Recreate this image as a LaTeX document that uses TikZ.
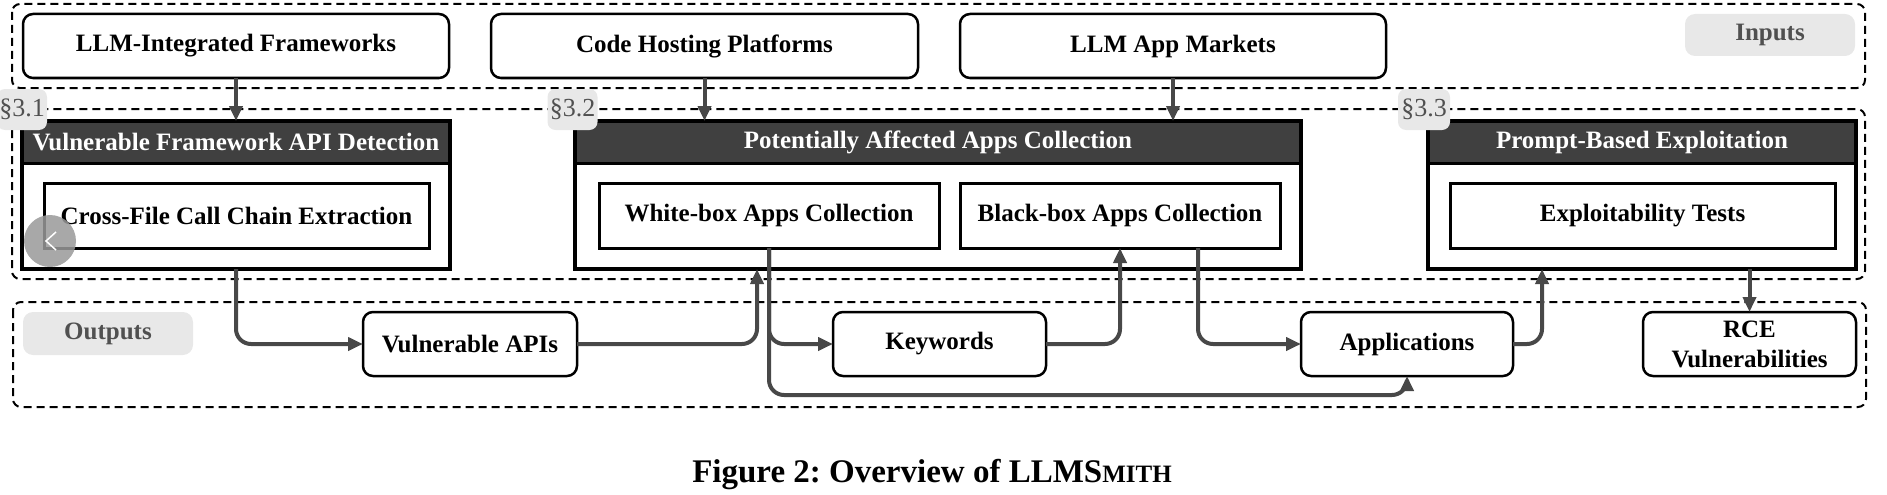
\documentclass[tikz,border=0pt]{standalone}
\usepackage{fontspec}
\setmainfont{Liberation Serif}
\usetikzlibrary{arrows.meta,calc}
\definecolor{hdr}{HTML}{404040}
\definecolor{conncol}{HTML}{484848}
\definecolor{lblfill}{HTML}{E8E8E8}
\definecolor{lbltext}{HTML}{505050}
\tikzset{
  base/.style={inner sep=0pt,outer sep=0pt,font=\fontsize{25}{30}\selectfont\bfseries,align=center},
  inbox/.style={base,draw=black,line width=2.5pt,rounded corners=10pt,fill=white},
  secbox/.style={base,draw=black,line width=4pt},
  hdrbox/.style={base,draw=black,line width=3pt,fill=hdr,text=white},
  subbox/.style={base,draw=black,line width=3pt,fill=white},
  grouplbl/.style={base,fill=lblfill,rounded corners=10pt,text=lbltext},
  seclbl/.style={inner sep=0pt,outer sep=0pt,fill=lblfill,rounded corners=8pt,text=lbltext,font=\fontsize{26}{30}\selectfont},
  group/.style={draw=black,line width=2pt,dash pattern=on 8pt off 5pt,rounded corners=8pt},
  conn/.style={draw=conncol,line width=4pt,rounded corners=15pt,-{Triangle[length=15pt,width=13pt]}},
}
\begin{document}
\frenchspacing
\begin{tikzpicture}[x=1pt,y=-1pt]
\useasboundingbox (0,0) rectangle (1887,495);
% group frames
\draw[group] (12,4) rectangle (1865,88);
\draw[group] (12,109) rectangle (1865,279);
\draw[group] (13,302) rectangle (1866,407);
% inputs
\node[inbox,minimum width=426pt,minimum height=64pt] (in1) at (236,46) {LLM-Integrated Frameworks};
\node[inbox,minimum width=427pt,minimum height=64pt] (in2) at (704.5,46) {Code Hosting Platforms};
\node[inbox,minimum width=426pt,minimum height=64pt] (in3) at (1173,46) {LLM App Markets};
\node[grouplbl,minimum width=170pt,minimum height=42pt] (inlbl) at (1770,35) {Inputs};
% section boxes
\node[secbox,minimum width=428pt,minimum height=148pt] (s1) at (236,195) {};
\node[hdrbox,minimum width=428pt,minimum height=42pt,anchor=north] (h1) at (s1.north) {Vulnerable Framework API Detection};
\node[subbox,minimum width=385pt,minimum height=65pt] (c1) at (236.5,215.5) {Cross-File Call Chain Extraction};
\draw[line width=4pt] (s1.north west) rectangle (s1.south east);

\node[secbox,minimum width=726pt,minimum height=148pt] (s2) at (938,195) {};
\node[hdrbox,minimum width=726pt,minimum height=42pt,anchor=north] (h2) at (s2.north) {Potentially Affected Apps Collection};
\node[subbox,minimum width=340pt,minimum height=65pt] (wb) at (769,215.5) {White-box Apps Collection};
\node[subbox,minimum width=320pt,minimum height=65pt] (bb) at (1120,215.5) {Black-box Apps Collection};
\draw[line width=4pt] (s2.north west) rectangle (s2.south east);

\node[secbox,minimum width=428pt,minimum height=148pt] (s3) at (1642,195) {};
\node[hdrbox,minimum width=428pt,minimum height=42pt,anchor=north] (h3) at (s3.north) {Prompt-Based Exploitation};
\node[subbox,minimum width=385pt,minimum height=65pt] (et) at (1642.5,215.5) {Exploitability Tests};
\draw[line width=4pt] (s3.north west) rectangle (s3.south east);
% section labels
\node[seclbl,minimum width=50pt,minimum height=41pt] (l1) at (22,109.5) {\S3.1};
\node[seclbl,minimum width=50pt,minimum height=41pt] (l2) at (572.5,109.5) {\S3.2};
\node[seclbl,minimum width=52pt,minimum height=41pt] (l3) at (1424,109.5) {\S3.3};
% outputs
\node[grouplbl,minimum width=170pt,minimum height=43pt] (outlbl) at (108,333.5) {Outputs};
\node[inbox,minimum width=214pt,minimum height=64pt] (va) at (470,344) {Vulnerable APIs};
\node[inbox,minimum width=213pt,minimum height=64pt] (kw) at (939.5,344) {Keywords};
\node[inbox,minimum width=212pt,minimum height=64pt] (ap) at (1407,344) {Applications};
\node[inbox,minimum width=213pt,minimum height=64pt] (rce) at (1749.5,344) {RCE\\Vulnerabilities};
% connectors
\draw[conn] (in1.south) -- (s1.north);
\draw[conn] (in2.south) -- (in2.south |- s2.north);
\draw[conn] (in3.south) -- (in3.south |- s2.north);
\draw[conn] (s1.south) |- (va.west);
\draw[conn] (va.east) -| ([xshift=182pt]s2.south west);
\draw[conn] (wb.south) |- (kw.west);
\draw[conn] (wb.south) |- ([yshift=-51pt]ap.center) -- (ap.south);
\draw[conn] (kw.east) -| (bb.south);
\draw[conn] ([xshift=78pt]bb.south) |- (ap.west);
\draw[conn] (ap.east) -| ([xshift=114pt]s3.south west);
\draw[conn] (rce.north |- s3.south) -- (rce.north);
% caption
\node[inner sep=0pt,font=\fontsize{33}{38}\selectfont\bfseries] (cap) at (932,475) {Figure 2: Overview of LLMS{\fontsize{25}{28}\selectfont MITH}};
% overlay button
\node[circle,fill=black!40,opacity=0.85,minimum size=52pt,inner sep=0pt] (btn) at (50,241) {};
\draw[white,line width=1.5pt] (56,232) -- (46,241) -- (56,250);
\end{tikzpicture}
\end{document}
